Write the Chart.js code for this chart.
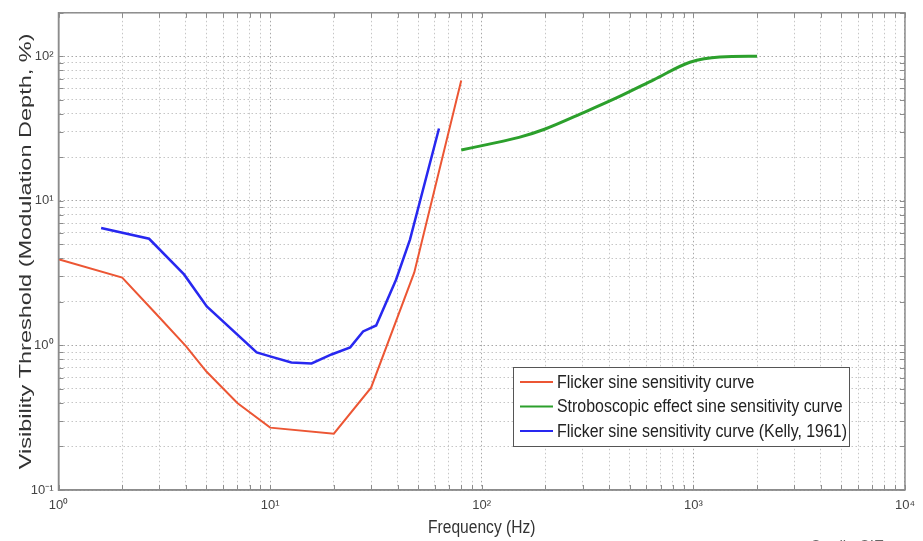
<!DOCTYPE html>
<html><head><meta charset="utf-8">
<script src="https://cdn.jsdelivr.net/npm/chart.js@4"></script>
<style>html,body{margin:0;padding:0;background:#fff;overflow:hidden}#wrap{position:relative;width:923px;height:541px}</style>
</head><body><div id="wrap"><canvas id="c" width="923" height="541"></canvas></div>
<script>
const FONT = "'Liberation Sans',Arial,sans-serif";
// tick labels and titles
const xDecadeTicks = [1, 10, 100, 1000, 10000];
const xTickLabels = ['10⁰', '10¹', '10²', '10³', '10⁴'];
const yDecadeTicks = [0.1, 1, 10, 100];
const yTickLabels = ['10⁻¹', '10⁰', '10¹', '10²'];
const xTitle = 'Frequency (Hz)';
const yTitle = 'Visibility Threshold (Modulation Depth, %)';
const creditText = 'Credit: CIE';
// series
const redLabel = 'Flicker sine sensitivity curve';
const redFreq  = [1, 2, 3, 4, 5, 7, 10, 20, 30, 48, 80];
const redValue = [3.95, 2.95, 1.56, 0.99, 0.66, 0.40, 0.27, 0.245, 0.51, 3.2, 68];
const greenLabel = 'Stroboscopic effect sine sensitivity curve';
const greenFreq  = [80, 107, 150, 198, 305, 451, 652, 963, 1333, 2000];
const greenValue = [22.5, 24.6, 27.5, 31.3, 41, 53, 69, 91, 99, 100];
const blueLabel = 'Flicker sine sensitivity curve (Kelly, 1961)';
const blueFreq  = [1.59, 2.68, 3.92, 5.02, 8.64, 10, 12.6, 15.7, 19.5, 23.9, 27.5, 31.7, 39.4, 45.8, 62.8];
const blueValue = [6.5, 5.47, 3.1, 1.86, 0.895, 0.84, 0.763, 0.75, 0.866, 0.97, 1.25, 1.375, 2.86, 5.4, 31.7];
const xMin = 1, xMax = 10000, yMin = 0.1, yMax = 200;

function logGrid(min, max) {
  const out = [];
  for (let e = Math.floor(Math.log10(min)); e <= Math.ceil(Math.log10(max)); e++) {
    for (let m = 1; m < 10; m++) {
      const v = +(m * Math.pow(10, e)).toPrecision(6);
      if (v >= min * 0.999999 && v <= max * 1.000001) out.push(v);
    }
  }
  return out;
}
const pts = (f, v) => f.map((x, i) => ({x, y: v[i]}));
const isDec = (list, v) => list.findIndex(d => Math.abs(d - v) / d < 1e-6);

const frame = {
  id: 'frame',
  afterDraw(chart) {
    const {ctx, chartArea: a, scales: {x, y}} = chart;
    ctx.save();
    ctx.strokeStyle = '#8c8c8c';
    ctx.lineWidth = 1;
    const L = 5;
    ctx.beginPath();
    x.ticks.forEach(t => {
      const p = Math.round(x.getPixelForValue(t.value)) + 0.5;
      ctx.moveTo(p, a.bottom); ctx.lineTo(p, a.bottom - L);
      ctx.moveTo(p, a.top); ctx.lineTo(p, a.top + L);
    });
    y.ticks.forEach(t => {
      const p = Math.round(y.getPixelForValue(t.value)) + 0.5;
      ctx.moveTo(a.left, p); ctx.lineTo(a.left + L, p);
      ctx.moveTo(a.right, p); ctx.lineTo(a.right - L, p);
    });
    ctx.stroke();
    ctx.lineWidth = 1.5;
    ctx.strokeRect(a.left, a.top, a.right - a.left, a.bottom - a.top);

    // axis titles (narrow look of the original)
    ctx.fillStyle = '#333';
    ctx.textAlign = 'center';
    ctx.textBaseline = 'middle';
    ctx.save();
    ctx.translate((a.left + a.right) / 2, 528);
    ctx.scale(0.89, 1);
    ctx.font = '17.5px ' + FONT;
    ctx.fillText(xTitle, 0, 0);
    ctx.restore();
    ctx.save();
    ctx.translate(26, (a.top + a.bottom) / 2);
    ctx.rotate(-Math.PI / 2);
    ctx.scale(1, 0.74);
    ctx.font = '23.5px ' + FONT;
    ctx.fillText(yTitle, 0, 0);
    ctx.restore();

    // legend
    const bx = 513, by = 367, bw = 336, bh = 79;
    ctx.fillStyle = '#fff';
    ctx.fillRect(bx, by, bw, bh);
    ctx.strokeStyle = '#555';
    ctx.lineWidth = 1;
    ctx.strokeRect(bx + 0.5, by + 0.5, bw, bh);
    ctx.textAlign = 'left';
    chart.data.datasets.forEach((ds, i) => {
      const yy = by + 15 + i * 24.5;
      ctx.strokeStyle = ds.borderColor;
      ctx.lineWidth = 2;
      ctx.beginPath(); ctx.moveTo(bx + 7, yy); ctx.lineTo(bx + 40, yy); ctx.stroke();
      ctx.save();
      ctx.translate(bx + 44, yy + 1);
      ctx.scale(0.91, 1);
      ctx.font = '17.5px ' + FONT;
      ctx.fillStyle = '#222';
      ctx.fillText(ds.label, 0, 0);
      ctx.restore();
    });
    // credit (cut off at the bottom edge)
    ctx.save();
    ctx.translate(810, 539);
    ctx.scale(0.89, 1);
    ctx.fillStyle = '#666';
    ctx.font = '17px ' + FONT;
    ctx.textBaseline = 'top';
    ctx.fillText(creditText, 0, 0);
    ctx.restore();
    ctx.restore();
  }
};

new Chart(document.getElementById('c'), {
  type: 'line',
  data: {
    datasets: [
      {label: redLabel, data: pts(redFreq, redValue), borderColor: 'rgb(236,86,52)', borderWidth: 2, tension: 0},
      {label: greenLabel, data: pts(greenFreq, greenValue), borderColor: 'rgb(44,160,44)', borderWidth: 3, cubicInterpolationMode: 'monotone'},
      {label: blueLabel, data: pts(blueFreq, blueValue), borderColor: 'rgb(40,40,240)', borderWidth: 2.5, tension: 0}
    ]
  },
  options: {
    responsive: false, animation: false, devicePixelRatio: 1,
    layout: {padding: {top: 12, right: 18, left: 0, bottom: 0}},
    elements: {point: {radius: 0}},
    plugins: {legend: {display: false}, tooltip: {enabled: false}},
    scales: {
      x: {
        type: 'logarithmic', min: xMin, max: xMax,
        afterBuildTicks: s => { s.ticks = logGrid(xMin, xMax).map(v => ({value: v})); },
        afterFit: s => { s.height = 51; },
        grid: {drawTicks: false, color: c => isDec(xDecadeTicks, c.tick.value) >= 0 ? '#a8a8a8' : '#c6c6c6', lineWidth: 1},
        border: {display: true, color: '#8c8c8c', width: 1.5, dash: [1.5, 2.5]},
        ticks: {autoSkip: false, maxRotation: 0, padding: 8, color: '#444', font: {family: FONT, size: 13},
          callback: v => { const i = isDec(xDecadeTicks, v); return i >= 0 ? xTickLabels[i] : ''; }},
        title: {display: false}
      },
      y: {
        type: 'logarithmic', min: yMin, max: yMax,
        afterBuildTicks: s => { s.ticks = logGrid(yMin, yMax).map(v => ({value: v})); },
        afterFit: s => { s.width = 58.5; },
        grid: {drawTicks: false, color: c => isDec(yDecadeTicks, c.tick.value) >= 0 ? '#a8a8a8' : '#c6c6c6', lineWidth: 1},
        border: {display: true, color: '#8c8c8c', width: 1.5, dash: [1.5, 2.5]},
        ticks: {autoSkip: false, padding: 5, color: '#444', font: {family: FONT, size: 13},
          callback: v => { const i = isDec(yDecadeTicks, v); return i >= 0 ? yTickLabels[i] : ''; }},
        title: {display: false}
      }
    }
  },
  plugins: [frame]
});
</script></body></html>
